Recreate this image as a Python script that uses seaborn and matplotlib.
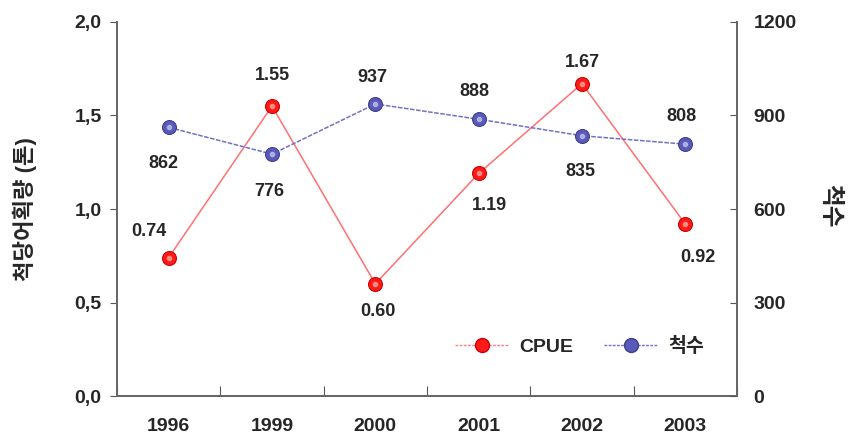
import numpy as np
import pandas as pd
import matplotlib
matplotlib.use("Agg")
import matplotlib.pyplot as plt
import seaborn as sns
from matplotlib.ticker import FixedLocator, FuncFormatter
from matplotlib.lines import Line2D

years = ["1996", "1999", "2000", "2001", "2002", "2003"]
cpue = [0.74, 1.55, 0.60, 1.19, 1.67, 0.92]
boats = [862, 776, 937, 888, 835, 808]

df = pd.DataFrame({"year": years, "cpue": cpue, "boats": boats})

sns.set_style("white")
plt.rcParams["font.family"] = ["Liberation Sans", "Noto Sans CJK KR", "DejaVu Sans"]
plt.rcParams["font.weight"] = "bold"

fig = plt.figure(figsize=(8.51, 4.44), dpi=100)
ax = fig.add_axes([0.1375, 0.108, 0.7285, 0.8425])
ax2 = ax.twinx()

red = "#ff1a1a"
blue = "#5a5ab8"

sns.lineplot(data=df, x="year", y="cpue", ax=ax, sort=False, legend=False,
             color="#ff7070", linewidth=1.1, marker="o", markersize=10,
             markerfacecolor=red, markeredgecolor="#d00000", markeredgewidth=0.8)
sns.lineplot(data=df, x="year", y="boats", ax=ax2, sort=False, legend=False,
             color="#7070c8", linewidth=1.1, linestyle=(0, (3, 1)), marker="o",
             markersize=10, markerfacecolor=blue, markeredgecolor="#40408a",
             markeredgewidth=0.8)

# small highlights on the markers
ax.plot(range(len(years)), cpue, "o", ms=3, color="#ffb0a0", alpha=0.7)
ax2.plot(range(len(years)), boats, "o", ms=3, color="#c8c8f0", alpha=0.7)

# data labels
cpue_off = [(-14, 19), (0, 22), (2, -20), (8, -23), (0, 15), (9, -24)]
boat_off = [(-4, -26), (-2, -27), (-2, 19), (-3, 20), (-1, -26), (-3, 20)]
for i, (v, o) in enumerate(zip(cpue, cpue_off)):
    ax.annotate(f"{v:.2f}", (i, v), xytext=o, textcoords="offset points",
                ha="center", va="center", fontsize=13, fontweight="bold")
for i, (v, o) in enumerate(zip(boats, boat_off)):
    ax2.annotate(f"{v}", (i, v), xytext=o, textcoords="offset points",
                 ha="center", va="center", fontsize=13, fontweight="bold")

ax.set_xlim(-0.5, len(years) - 0.5)
ax.set_ylim(0, 2.0)
ax2.set_ylim(0, 1200)

ax.set_yticks([0, 0.5, 1.0, 1.5, 2.0])
ax.yaxis.set_major_formatter(FuncFormatter(lambda v, p: f"{v:.1f}".replace(".", ",")))
ax2.set_yticks([0, 300, 600, 900, 1200])

# x ticks at category boundaries, labels at centres
ax.xaxis.set_major_locator(FixedLocator(np.arange(-0.5, len(years), 1.0)))
ax.xaxis.set_minor_locator(FixedLocator(np.arange(len(years))))
ax.xaxis.set_major_formatter(FuncFormatter(lambda v, p: ""))
ax.xaxis.set_minor_formatter(FuncFormatter(lambda v, p: years[int(round(v))]))
ax.tick_params(axis="x", which="major", direction="in", length=7, width=0.8,
               color="#555555", bottom=True)
ax.tick_params(axis="x", which="minor", length=0, pad=16, labelsize=14)
ax.tick_params(axis="y", direction="out", length=5, width=0.8, color="#555555",
               left=True, pad=6, labelsize=14)
ax2.tick_params(axis="y", direction="in", length=5, width=0.8, color="#555555",
                right=True, pad=12, labelsize=14)

for a in (ax, ax2):
    a.spines["top"].set_visible(False)
    for s in ("left", "right", "bottom"):
        a.spines[s].set_color("#666666")
        a.spines[s].set_linestyle((0, (1, 0.6)))
        a.spines[s].set_linewidth(1.4)
ax.spines["right"].set_visible(False)
ax2.spines["left"].set_visible(False)
ax2.spines["bottom"].set_visible(False)

ax.set_xlabel("")
ax.set_ylabel("척당어획량 (톤)", fontsize=16, fontweight="bold", va="center")
ax.yaxis.set_label_coords(-0.148, 0.5)
ax2.set_ylabel("척수", fontsize=17, fontweight="bold", rotation=-90, va="center")
ax2.yaxis.set_label_coords(1.15, 0.51)

handles = [
    Line2D([], [], color="#ff8080", lw=1, linestyle=(0, (2, 1)), marker="o", ms=10,
           markerfacecolor=red, markeredgecolor="#d00000"),
    Line2D([], [], color="#7070c8", lw=1, linestyle=(0, (2, 1)), marker="o", ms=10,
           markerfacecolor=blue, markeredgecolor="#40408a"),
]
ax2.legend(handles, ["CPUE", "척수"], loc="lower right", bbox_to_anchor=(0.975, 0.06),
           ncol=2, frameon=False, fontsize=14, handlelength=2.8, columnspacing=1.6,
           handletextpad=0.5)

fig.savefig("out.png", dpi=100)
